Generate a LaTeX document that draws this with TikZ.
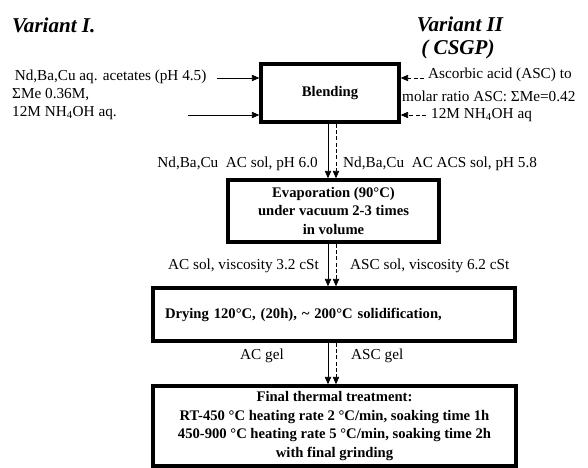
\documentclass[tikz,border=0pt]{standalone}
\usepackage{fontspec}
\setmainfont{Liberation Serif}
\usetikzlibrary{arrows.meta}

\begin{document}
\begin{tikzpicture}[
    x=0.3mm, y=-0.3mm,
    stage/.style = {rectangle, draw, line width=3pt, inner sep=2pt, align=center,
                    font=\fontsize{12.5}{16}\selectfont\bfseries},
    lbl/.style   = {font=\fontsize{13}{15.5}\selectfont, inner sep=0pt},
    ttl/.style   = {font=\fontsize{18}{21}\selectfont\bfseries\itshape, inner sep=0pt},
    acflow/.style  = {-{Triangle[length=2.2mm, width=1.9mm]}, semithick},
    ascflow/.style = {acflow, dash pattern=on 1.2mm off 0.7mm},
  ]
  \useasboundingbox (0,0) rectangle (588,468);

  %% ------------------------------------------------ titles
  \node[ttl, anchor=west] (var1) at (12,25) {Variant I.};
  \node[ttl] (var2) at (460,24) {Variant II};
  \node[ttl] (csgp) at (458,49) {( CSGP)};

  %% ------------------------------------------------ process stages
  \node[stage, minimum width=41.4mm, minimum height=17.4mm] (blend) at (330,93) {Blending};
  \node[stage, minimum width=63.3mm, minimum height=18.6mm] (evap) at (333.5,211)
    {Evaporation (90°C)\\ under vacuum 2-3 times\\ in volume};
  \node[stage, text width=101.4mm, inner xsep=3.6mm, align=left, minimum height=15.9mm]
    (dry) at (334,314.5) {Drying 120°C, (20h), \textasciitilde\ 200°C solidification,};
  \node[stage, minimum width=108.9mm, minimum height=24mm] (final) at (334.5,426)
    {Final thermal treatment:\\ RT-450 °C heating rate 2 °C/min, soaking time 1h\\
     450-900 °C heating rate 5 °C/min, soaking time 2h\\ with final grinding};

  %% ------------------------------------------------ inputs, variant I
  \node[lbl, anchor=west, align=left] (inI) at (12,95)
    {\,Nd,Ba,Cu aq. acetates (pH 4.5)\\ ΣMe 0.36M,\\ 12M NH\textsubscript{4}OH aq.};
  \coordinate (inIa) at (217,78);
  \coordinate (inIb) at (188,115);
  \draw[acflow] (inIa) -- (inIa -| blend.west);
  \draw[acflow] (inIb) -- (inIb -| blend.west);

  %% ------------------------------------------------ inputs, variant II
  \node[lbl, anchor=west] (inIIa) at (428,75) {Ascorbic acid (ASC) to};
  \node[lbl, anchor=west] (inIIb) at (402,96) {molar ratio ASC: ΣMe=0.42};
  \node[lbl, anchor=west] (inIIc) at (431,115) {12M NH\textsubscript{4}OH aq};
  \coordinate (inIIx) at (424,78);
  \coordinate (inIIy) at (426,115);
  \draw[ascflow] (inIIx) -- (inIIx -| blend.east);
  \draw[ascflow] (inIIy) -- (inIIy -| blend.east);

  %% ------------------------------------------------ flow between stages
  \coordinate (acx) at (328,0);
  \coordinate (ascx) at (336,0);
  \draw[acflow]  (blend.south -| acx)  -- (evap.north -| acx);
  \draw[ascflow] (blend.south -| ascx) -- (evap.north -| ascx);
  \draw[acflow]  (evap.south -| acx)   -- (dry.north -| acx);
  \draw[ascflow] (evap.south -| ascx)  -- (dry.north -| ascx);
  \draw[acflow]  (dry.south -| acx)    -- (final.north -| acx);
  \draw[ascflow] (dry.south -| ascx)   -- (final.north -| ascx);

  \node[lbl, anchor=east] (acsol)  at (318,164) {Nd,Ba,Cu\ \ AC sol, pH 6.0};
  \node[lbl, anchor=west] (ascsol) at (343,164) {Nd,Ba,Cu\ \ AC ACS sol, pH 5.8};
  \node[lbl, anchor=east] (acvis)  at (319,266) {AC sol, viscosity 3.2 cSt};
  \node[lbl, anchor=west] (ascvis) at (350,266) {ASC sol, viscosity 6.2 cSt};
  \node[lbl, anchor=east] (acgel)  at (284,356) {AC gel};
  \node[lbl, anchor=west] (ascgel) at (351,356) {ASC gel};
\end{tikzpicture}
\end{document}
